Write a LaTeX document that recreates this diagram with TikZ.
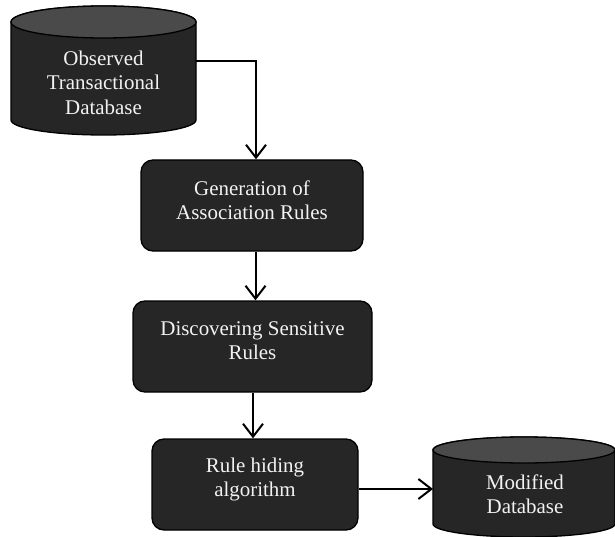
\documentclass[tikz,border=0pt]{standalone}
\usepackage{fontspec}
\setmainfont{Liberation Serif}
\usetikzlibrary{arrows.meta}
\definecolor{bodyc}{HTML}{262626}
\definecolor{topc}{HTML}{4A4A4A}
\definecolor{txtc}{HTML}{F2F2F2}
\tikzset{
  stepbox/.style={draw=black, line width=1.3bp, fill=bodyc, rounded corners=12bp,
    minimum height=91bp, inner sep=0pt},
  cyltext/.style={text=txtc, align=center, inner sep=0pt,
    font=\fontsize{21}{24.5}\selectfont},
  cylbody/.style={draw=black, line width=1.3bp, fill=bodyc},
  cyltop/.style={draw=black, line width=1.3bp, fill=topc},
  arr/.style={draw=black, line width=2bp, -{Straight Barb[length=13bp,width=20bp,line width=2bp]}}
}
\begin{document}
\begin{tikzpicture}[x=1bp,y=-1bp]
\useasboundingbox (0,0) rectangle (615,537);
% cylinder 1
\path[cylbody] (11,22) -- (11,120) arc[start angle=180,end angle=0,x radius=92.5,y radius=15] -- (196,22) arc[start angle=0,end angle=-180,x radius=92.5,y radius=16] -- cycle;
\path[cyltop] (103.5,22) ellipse[x radius=92.5,y radius=16];
\node[cyltext] (c1) at (103.5,82.5) {Observed\\Transactional\\Database};
\coordinate (c1e) at (196,61);
% cylinder 2
\path[cylbody] (433,450) -- (433,524) arc[start angle=180,end angle=0,x radius=91,y radius=13] -- (615,450) arc[start angle=0,end angle=-180,x radius=91,y radius=13] -- cycle;
\path[cyltop] (524,450) ellipse[x radius=91,y radius=13];
\node[cyltext] (c2) at (525,494.5) {Modified\\Database};
\coordinate (c2w) at (433,489);
% boxes
\node[stepbox, minimum width=222bp] (b1) at (252,205.5) {};
\node[cyltext] (b1t) at (252,200) {Generation of\\Association Rules};
\node[stepbox, minimum width=239bp] (b2) at (252.5,346.5) {};
\node[cyltext] (b2t) at (252.5,340.5) {Discovering Sensitive\\Rules};
\node[stepbox, minimum width=206bp] (b3) at (255,484.5) {};
\node[cyltext] (b3t) at (255,479.5) {Rule hiding\\algorithm};
% arrows
\draw[arr] (c1e) -| ([xshift=4bp]b1.north);
\draw[arr] ([xshift=3.5bp]b1.south) -- ([xshift=3.5bp]b1.south |- b2.north);
\draw[arr] ([xshift=0.5bp]b2.south) -- ([xshift=0.5bp]b2.south |- b3.north);
\draw[arr] (b3.east |- c2w) -- (c2w);
\end{tikzpicture}
\end{document}
